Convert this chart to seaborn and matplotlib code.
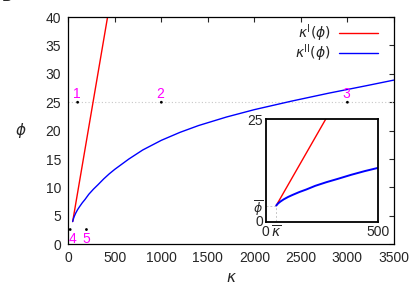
import matplotlib
matplotlib.use('Agg')
import numpy as np
import pandas as pd
import seaborn as sns
import matplotlib.pyplot as plt

sns.set_style('white')
plt.rcParams['font.family'] = ['Liberation Sans', 'DejaVu Sans']
plt.rcParams['mathtext.fontset'] = 'dejavusans'

# kappa^I(phi): straight line from (kappa_bar, phi_bar)
kappa_bar = 47
phi_bar = 4.0
red_kappa = [47, 422]
red_phi = [4.0, 40.0]

# kappa^II(phi): values
blue_kappa = [47, 55, 65, 80, 100, 120, 150, 180, 220, 270, 320, 380, 440, 500,
              650, 800, 1000, 1200, 1400, 1700, 2000, 2400, 2800, 3200, 3500]
blue_phi = [4.0, 4.5, 4.95, 5.5, 6.1, 6.6, 7.3, 7.9, 8.8, 9.7, 10.5, 11.5,
            12.4, 13.2, 15.0, 16.6, 18.3, 19.7, 20.9, 22.4, 23.7, 25.2, 26.6,
            27.9, 28.9]

# numbered points
pt_labels = ['1', '2', '3', '4', '5']
pt_kappa = [100, 1000, 3000, 20, 195]
pt_phi = [25, 25, 25, 2.6, 2.6]

df_red = pd.DataFrame({'kappa': red_kappa, 'phi': red_phi})
df_blue = pd.DataFrame({'kappa': blue_kappa, 'phi': blue_phi})
df_pts = pd.DataFrame({'kappa': pt_kappa, 'phi': pt_phi, 'label': pt_labels})

fig = plt.figure(figsize=(4.15, 2.91), dpi=100)
ax = fig.add_axes([0.1646, 0.1605, 0.7846, 0.7810])

ax.axhline(25, color='#c8c8c8', lw=0.8, ls=(0, (1, 2)), zorder=1)
sns.lineplot(data=df_red, x='kappa', y='phi', color='#ff0000', lw=1.0,
             label=r'$\kappa^{\rm I}(\phi)$', ax=ax, sort=False)
sns.lineplot(data=df_blue, x='kappa', y='phi', color='#0000ff', lw=1.0,
             label=r'$\kappa^{\rm II}(\phi)$', ax=ax, sort=False)
sns.scatterplot(data=df_pts, x='kappa', y='phi', color='black', s=4,
                edgecolor='none', ax=ax, zorder=3, legend=False)

for lab, k, p in zip(pt_labels, pt_kappa, pt_phi):
    if p > 10:
        ax.text(k - 10, p + 1.5, lab, color='#ff00ff', fontsize=10,
                ha='center', va='center')
    else:
        ax.text(k + 20 if lab == '4' else k - 5, p - 1.6, lab, color='#ff00ff',
                fontsize=10, ha='center', va='center')

ax.set_xlim(0, 3500)
ax.set_ylim(0, 40)
ax.set_xticks(np.arange(0, 3501, 500))
ax.set_yticks(np.arange(0, 41, 5))
ax.tick_params(direction='in', length=3.5, width=0.8, top=True, right=True,
               labelsize=10, pad=5)
ax.set_xticklabels([str(v) for v in range(0, 3501, 500)])
for s in ax.spines.values():
    s.set_linewidth(0.9)
    s.set_color('black')
ax.set_xlabel(r'$\kappa$', fontsize=11, labelpad=4)
ax.set_ylabel(r'$\phi$', fontsize=11, rotation=0, labelpad=18, va='center')

leg = ax.legend(loc='upper right', bbox_to_anchor=(0.951, 0.975),
                frameon=False, markerfirst=False, fontsize=10,
                handlelength=2.8, borderpad=0, borderaxespad=0,
                labelspacing=-0.12, handletextpad=0.6)

# inset
ins = fig.add_axes([0.6402, 0.2375, 0.2713, 0.3519])
ins.plot([0, kappa_bar, kappa_bar], [phi_bar, phi_bar, 0], color='#c8c8c8',
         lw=0.7, ls=(0, (2, 2)))
sns.lineplot(data=df_red, x='kappa', y='phi', color='#ff0000', lw=1.0,
             ax=ins, sort=False)
sns.lineplot(data=df_blue, x='kappa', y='phi', color='#0000ff', lw=1.4,
             ax=ins, sort=False)
ins.set_xlim(0, 500)
ins.set_ylim(0, 25)
ins.set_xticks([0, kappa_bar, 500])
ins.set_xticklabels(['0', r'$\overline{\kappa}$', '500'])
ins.set_yticks([0, phi_bar, 25])
ins.set_yticklabels(['0', r'$\overline{\phi}$', '25'])
ins.tick_params(length=0, labelsize=10, pad=2)
ins.get_yticklabels()[1].set_fontsize(9)
ins.get_yticklabels()[0].set_verticalalignment('center')
ins.set_xlabel('')
ins.set_ylabel('')
for s in ins.spines.values():
    s.set_linewidth(1.3)
    s.set_color('black')

fig.text(0.005, 0.985, 'B', fontsize=11, va='bottom', ha='left')

fig.savefig('out.png', dpi=100)
